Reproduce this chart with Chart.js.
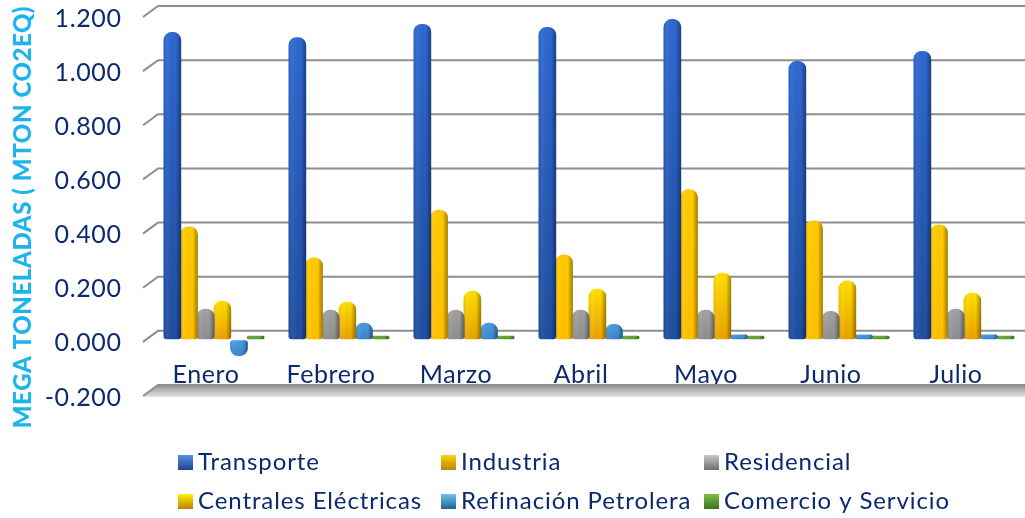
<!DOCTYPE html>
<html>
<head>
<meta charset="utf-8">
<title>Emisiones</title>
<script src="https://cdn.jsdelivr.net/npm/chart.js@4"></script>
<style>
html,body{margin:0;padding:0;background:#fff;overflow:hidden;width:1025px;height:518px}
canvas{display:block}
</style>
</head>
<body>
<canvas id="mycanvas" width="1040" height="518"></canvas>
<script>
var months = ['Enero','Febrero','Marzo','Abril','Mayo','Junio','Julio'];
var yTicks = [-0.2,0,0.2,0.4,0.6,0.8,1.0,1.2];

var transporte = [1.137,1.118,1.167,1.156,1.185,1.030,1.067];
var industria = [0.419,0.304,0.481,0.315,0.556,0.441,0.426];
var residencial = [0.115,0.111,0.111,0.111,0.111,0.107,0.115];
var centrales = [0.144,0.141,0.181,0.189,0.248,0.219,0.174];
var refinacion = [-0.060,0.063,0.063,0.059,0.020,0.020,0.020];
var comercio = [0.015,0.015,0.015,0.015,0.015,0.015,0.015];

var seriesNames = ['Transporte','Industria','Residencial','Centrales Eléctricas','Refinación Petrolera','Comercio y Servicio'];

// [top colour, bottom colour]
var barColors = [
	['#2e68d0','#1f4d9f'],
	['#ffcb00','#ffc000'],
	['#a2a2a2','#8e8e8e'],
	['#ffdf00','#eaa200'],
	['#4a9be0','#3a84c8'],
	['#6aa838','#5a9a30']
];
var legendColors = [
	['#5b8fe0','#1f4690'],
	['#ffd400','#b88400'],
	['#c8c8c8','#6e6e6e'],
	['#fff000','#b88400'],
	['#6cc4f4','#24608e'],
	['#7cc040','#3c7020']
];

var textColor = '#0c2a6e';
var fontName = 'Lato';

function setBarFill(chart, args) {
	var ctx = chart.ctx;
	var cols = barColors[args.index];
	args.meta.data.forEach(function(el) {
		var top = Math.min(el.y, el.base), bot = Math.max(el.y, el.base);
		var g = ctx.createLinearGradient(0, top, 0, bot);
		g.addColorStop(0, cols[0]);
		g.addColorStop(1, cols[1]);
		el.options = Object.assign({}, el.options, {backgroundColor: g});
	});
}

function shadeBars(chart, args) {
	var ctx = chart.ctx;
	args.meta.data.forEach(function(el) {
		var g = ctx.createLinearGradient(el.x - el.width / 2, 0, el.x + el.width / 2, 0);
		g.addColorStop(0, 'rgba(0,0,0,0.06)');
		g.addColorStop(0.2, 'rgba(255,255,255,0.06)');
		g.addColorStop(0.7, 'rgba(0,0,0,0)');
		g.addColorStop(1, 'rgba(0,0,0,0.38)');
		var base = el.options;
		el.options = Object.assign({}, base, {backgroundColor: g});
		el.draw(ctx);
		el.options = base;
	});
}

var wallPlugin = {
	id: 'wall',
	beforeDraw: function(chart) {
		chart.ctx.letterSpacing = '0.6px';
	},
	beforeDatasetsDraw: function(chart) {
		var ctx = chart.ctx, y = chart.scales.y;
		var x0 = 143, x1 = 158;
		ctx.save();
		// floor slab
		var fy = y.getPixelForValue(yTicks[0]);
		var g = ctx.createLinearGradient(0, fy - 9, 0, fy + 3);
		g.addColorStop(0, '#8a8a8a');
		g.addColorStop(0.25, '#a8a8a8');
		g.addColorStop(1, '#e4e4e4');
		ctx.fillStyle = g;
		ctx.beginPath();
		ctx.moveTo(x0, fy + 3);
		ctx.lineTo(x1, fy - 9);
		ctx.lineTo(1030, fy - 9);
		ctx.lineTo(1030, fy + 3);
		ctx.closePath();
		ctx.fill();
		// grid lines
		ctx.strokeStyle = '#8e8e8e';
		ctx.lineWidth = 2;
		yTicks.forEach(function(v) {
			var py = y.getPixelForValue(v);
			ctx.beginPath();
			ctx.moveTo(x0, py + 2);
			ctx.lineTo(x1, py - 9);
			ctx.lineTo(1030, py - 9);
			ctx.stroke();
		});
		ctx.restore();
	},
	beforeDatasetDraw: setBarFill,
	afterDatasetDraw: shadeBars
};

var legendPlugin = {
	id: 'gridLegend',
	afterDraw: function(chart) {
		var ctx = chart.ctx;
		var colX = [178, 441, 704], rowY = [462, 501];
		ctx.save();
		ctx.font = '24px ' + fontName;
		ctx.letterSpacing = '0.9px';
		ctx.textBaseline = 'middle';
		chart.data.datasets.forEach(function(ds, i) {
			var x = colX[i % 3], y = rowY[Math.floor(i / 3)];
			var g = ctx.createLinearGradient(0, y - 7, 0, y + 8);
			g.addColorStop(0, legendColors[i][0]);
			g.addColorStop(1, legendColors[i][1]);
			ctx.fillStyle = g;
			ctx.fillRect(x, y - 7, 15, 15);
			ctx.fillStyle = textColor;
			ctx.fillText(ds.label, x + 20, y);
		});
		ctx.restore();
	}
};

var seriesValues = [transporte, industria, residencial, centrales, refinacion, comercio];
var datasets = seriesNames.map(function(name, i) {
	return {
		label: name,
		data: seriesValues[i],
		backgroundColor: barColors[i][0],
		borderSkipped: false,
		borderRadius: function(c) {
			// rounded end points away from zero
			if (c.parsed && c.parsed.y < 0) {
				return {topLeft: 3, topRight: 3, bottomLeft: 8, bottomRight: 8};
			}
			return {topLeft: 8, topRight: 8, bottomLeft: 3, bottomRight: 3};
		}
	};
});

new Chart(document.getElementById('mycanvas'), {
	type: 'bar',
	data: {labels: months, datasets: datasets},
	plugins: [wallPlugin, legendPlugin],
	options: {
		responsive: false,
		animation: false,
		layout: {padding: {top: 15, right: 13.5, bottom: 124, left: 0}},
		plugins: {legend: {display: false}, tooltip: {enabled: false}},
		datasets: {bar: {barPercentage: 1.06, categoryPercentage: 0.8, clip: false}},
		scales: {
			x: {
				grid: {display: false, drawTicks: false},
				border: {display: false},
				afterFit: function(s) { s.height = 0; },
				ticks: {
					autoSkip: false,
					maxRotation: 0,
					mirror: true,
					padding: 0,
					labelOffset: -8,
					color: textColor,
					font: {family: fontName, size: 25, lineHeight: 1.56}
				}
			},
			y: {
				min: -0.2,
				max: 1.2,
				grid: {display: true, drawOnChartArea: false, tickLength: 30, tickColor: 'rgba(0,0,0,0)'},
				border: {display: false},
				afterFit: function(s) { s.width = 151.5; },
				afterBuildTicks: function(s) {
					s.ticks = yTicks.map(function(v) { return {value: v}; });
				},
				title: {
					display: true,
					text: 'MEGA TONELADAS ( MTON CO2EQ)    ',
					color: '#1cb4ee',
					padding: {top: 9, bottom: 0},
					font: {family: fontName, size: 24, weight: '900'}
				},
				ticks: {
					padding: 0,
					labelOffset: 3.5,
					color: textColor,
					font: {family: fontName, size: 25},
					callback: function(v) { return v.toFixed(3); }
				}
			}
		}
	}
});
</script>
</body>
</html>
